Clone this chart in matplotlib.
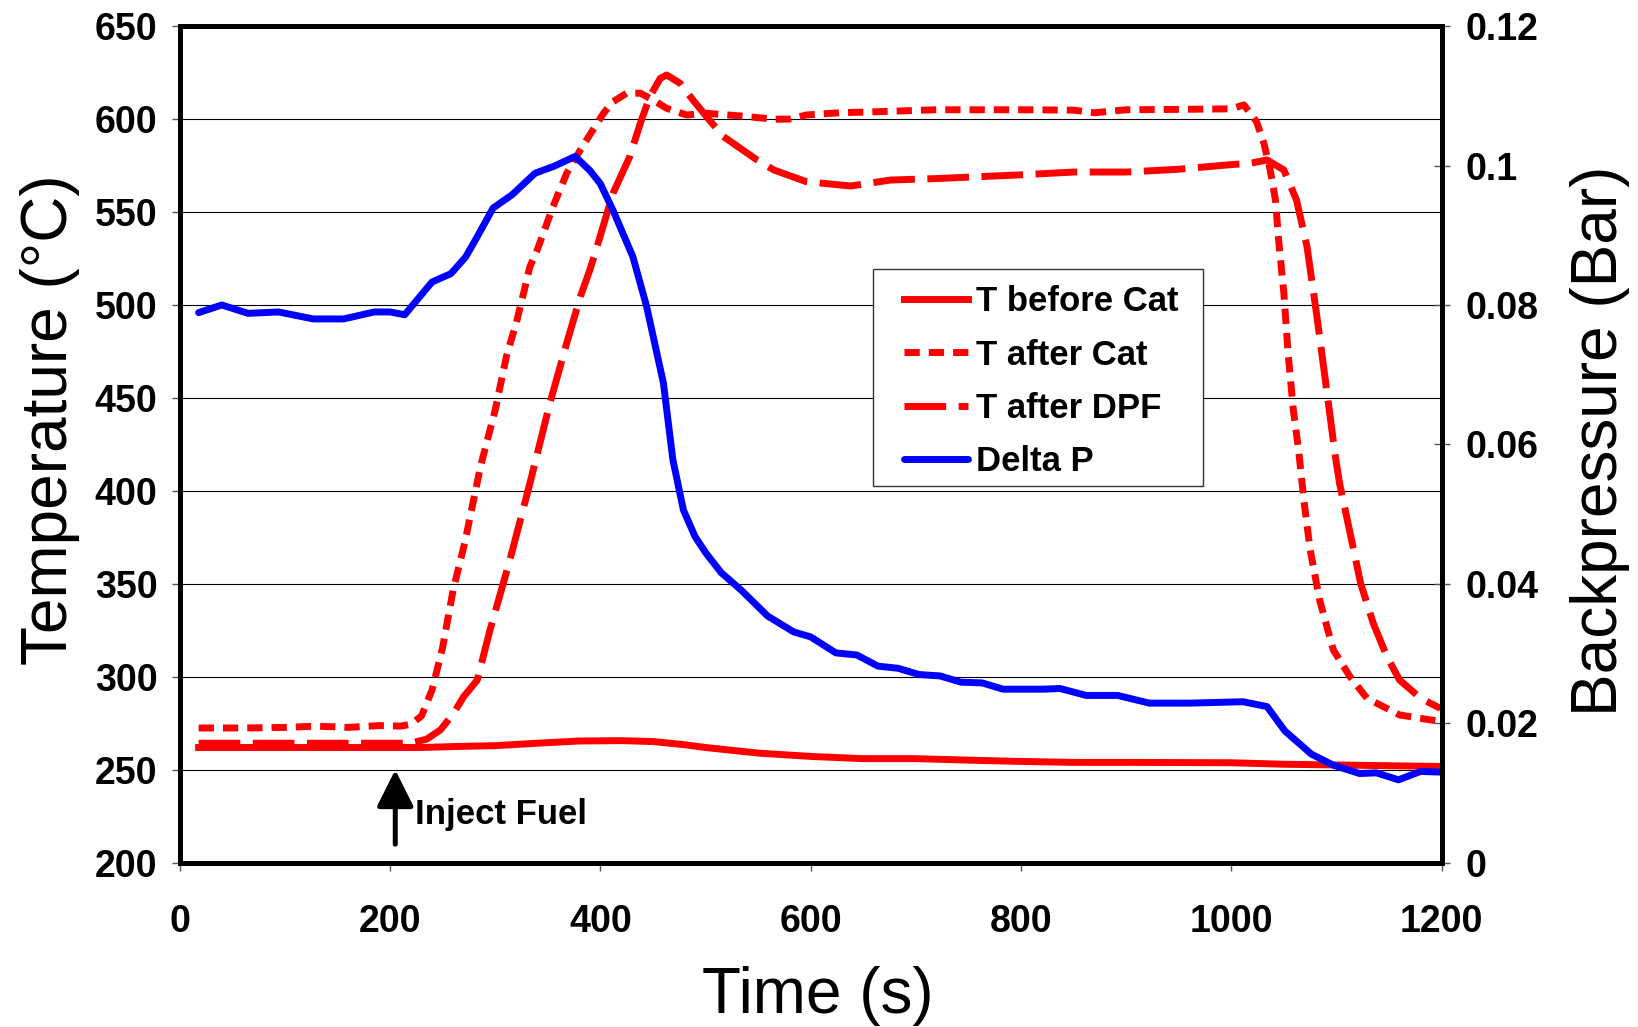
import numpy as np
import matplotlib
matplotlib.use("Agg")
import matplotlib.pyplot as plt
from matplotlib.patches import Rectangle

plt.rcParams['font.family'] = ['Liberation Sans', 'DejaVu Sans']

# --- data ---
t_before = [18, 60, 100, 150, 200, 230, 260, 300, 340, 380, 420, 450, 480, 500,
            550, 600, 650, 700, 750, 800, 850, 900, 1000, 1050, 1100, 1150, 1200]
T_before = [262, 262, 262, 262, 262, 262, 262.5, 263, 264.3, 265.5, 265.7, 265.2, 263.5, 262,
            259, 257.2, 256, 256, 255.2, 254.5, 254, 254, 253.8, 253, 252.6, 252.2, 251.8]

t_cat = [18, 60, 100, 130, 160, 190, 210, 220, 230, 240, 250, 260, 271, 286, 300, 311, 320,
         327, 333, 340, 355, 368, 381, 393, 403, 412, 425, 438, 450, 463, 482, 501, 533, 565,
         580, 596, 628, 666, 720, 800, 850, 870, 900, 950, 1000, 1012, 1024, 1031, 1037, 1042,
         1045, 1050, 1054, 1059, 1064, 1069, 1075, 1084, 1097, 1113, 1129, 1160, 1200]
T_cat = [272.5, 272.5, 272.8, 273.5, 272.8, 273.8, 273.5, 274.5, 279, 293, 315.7, 346.6, 371.9,
         413, 443.5, 473.1, 490.2, 506.3, 520.6, 529.6, 552.9, 570.8, 583.4, 594.2, 603.1, 609.3,
         613.9, 613.9, 610.3, 605.8, 602.2, 603.1, 601.7, 599.9, 600, 602.2, 603.4, 604, 605, 605,
         604.8, 603.4, 605, 605.2, 605.5, 607.6, 598.6, 587, 572.6, 556.5, 535, 506.3, 474, 443.5,
         422, 395.2, 368.3, 341.3, 314.5, 300, 288.5, 279.5, 275.9]

t_dpf = [18, 60, 100, 150, 200, 219, 235, 248, 260, 270, 283, 295, 314, 333, 352, 368, 381,
         390, 395, 412, 428, 438, 447, 457, 463, 476, 488, 501, 517, 533, 549, 565, 596, 638,
         676, 720, 800, 850, 900, 950, 1000, 1018, 1034, 1050, 1062, 1072, 1081, 1089, 1099,
         1103, 1113, 1123, 1135, 1148, 1160, 1180, 1199]
T_dpf = [264.3, 264.3, 264.3, 264.3, 264.3, 264.3, 266.5, 271.5, 280, 289.3, 298.3, 325, 362.9,
         404, 447.1, 479.4, 504.5, 518.8, 527.8, 560, 579.8, 597.7, 612, 621.9, 623.7, 619.2,
         610.3, 601.3, 590.6, 584.3, 578, 572.6, 566.3, 564, 567.2, 568, 570, 571.5, 571.5, 573,
         575.5, 576.2, 578, 572.6, 556.5, 531.4, 495.5, 461.5, 418.4, 404, 377.3, 350.3, 328.8,
         310.9, 298.3, 288.5, 283]

t_dp = [18, 40, 65, 94, 127, 156, 185, 200, 214, 240, 258, 272, 283, 298, 316, 338, 356, 376,
        390, 400, 412, 431, 444, 460, 469, 479, 490, 500, 515, 534, 559, 584, 600, 624, 644, 664,
        683, 703, 723, 743, 763, 783, 822, 837, 862, 892, 922, 962, 1011, 1034, 1051, 1076,
        1097, 1122, 1138, 1159, 1180, 1200]
dp = [0.0789, 0.08, 0.0788, 0.079, 0.078, 0.078, 0.079, 0.079, 0.0786, 0.0833, 0.0845, 0.0869,
      0.0898, 0.0939, 0.0958, 0.0989, 0.0999, 0.1013, 0.0993, 0.0974, 0.0936, 0.0869, 0.0798,
      0.0688, 0.0578, 0.0506, 0.0468, 0.0445, 0.0416, 0.0391, 0.0354, 0.0331, 0.0324, 0.0301,
      0.0298, 0.0282, 0.0279, 0.027, 0.0268, 0.0259, 0.0258, 0.0249, 0.0249, 0.025, 0.024, 0.024,
      0.0229, 0.0229, 0.0231, 0.0224, 0.0189, 0.0156, 0.014, 0.0128, 0.0129, 0.0119, 0.0131, 0.013]

x_ticks = [0, 200, 400, 600, 800, 1000, 1200]
y_ticks = [200, 250, 300, 350, 400, 450, 500, 550, 600, 650]
p_ticks = [0, 0.02, 0.04, 0.06, 0.08, 0.1, 0.12]
p_labels = ['0', '0.02', '0.04', '0.06', '0.08', '0.1', '0.12']

W, H = 1638, 1027
fig = plt.figure(figsize=(W / 100, H / 100), dpi=100)
ax = fig.add_axes([0.1097, 0.1599, 0.7704, 0.8147])
ax2 = ax.twinx()

LW = 5.0
l1, = ax.plot(t_before, T_before, color='#ff0000', lw=LW, solid_joinstyle='round',
              label='T before Cat')
l2, = ax.plot(t_cat, T_cat, color='#ff0000', lw=LW, dashes=(2.2, 1.3),
              dash_capstyle='butt', dash_joinstyle='round', label='T after Cat')
l3, = ax.plot(t_dpf, T_dpf, color='#ff0000', lw=LW, dashes=(6.0, 1.8),
              dash_capstyle='butt', dash_joinstyle='round', label='T after DPF')
l4, = ax2.plot(t_dp, dp, color='#0000ff', lw=LW, solid_joinstyle='round',
               solid_capstyle='round', label='Delta P')

ax.set_xlim(0, 1200)
ax.set_ylim(200, 650)
ax2.set_ylim(0, 0.12)

ax.set_xticks(x_ticks)
ax.set_yticks(y_ticks)
ax2.set_yticks(p_ticks)
ax2.set_yticklabels(p_labels)

ax.yaxis.grid(True, color='black', lw=0.8)
ax.set_axisbelow(True)

for a in (ax, ax2):
    for s in a.spines.values():
        s.set_linewidth(3.6)
        s.set_color('black')

ax.tick_params(axis='y', direction='out', length=6, width=1, color='#555555', pad=10,
               labelsize=27)
ax.tick_params(axis='x', direction='out', length=6, width=1, color='#555555', pad=24,
               labelsize=27)
ax2.tick_params(axis='y', direction='inout', length=12, width=1, color='#555555', pad=11,
                labelsize=27)
for lab in ax.get_xticklabels() + ax.get_yticklabels() + ax2.get_yticklabels():
    lab.set_fontweight('bold')

# axis titles, placed by their centres in figure pixels
fig.text(818 / W, 1 - 996 / H, 'Time (s)', fontsize=46, ha='center', va='center')
fig.text(50 / W, 1 - 420 / H, 'Temperature (°C)', fontsize=46, ha='center', va='center',
         rotation=90)
fig.text(1600 / W, 1 - 441 / H, 'Backpressure (Bar)', fontsize=46, ha='center', va='center',
         rotation=90)

# fuel injection marker
ax.annotate('', xy=(205, 250), xytext=(205, 210),
            arrowprops=dict(arrowstyle='-|>,head_length=0.9,head_width=0.45',
                            mutation_scale=25, lw=3.6, color='black',
                            shrinkA=0, shrinkB=0))
ax.text(224, 226, 'Inject Fuel', fontsize=25, fontweight='bold', ha='left', va='center')

# legend with a hand-placed frame
ax2.add_patch(Rectangle((0.5496, 0.4507), 0.8112 - 0.5496, 0.7091 - 0.4507,
                        transform=ax2.transAxes, facecolor='white', edgecolor='#333333',
                        lw=1.0, zorder=4))
leg = ax2.legend(handles=[l1, l2, l3, l4], loc='upper left',
                 bbox_to_anchor=(0.5737, 0.690), frameon=False,
                 prop={'weight': 'bold', 'size': 25}, handlelength=1.85,
                 handletextpad=0.22, labelspacing=0.58, borderpad=0,
                 borderaxespad=0)
leg.set_zorder(5)

fig.savefig('out.png', dpi=100)
